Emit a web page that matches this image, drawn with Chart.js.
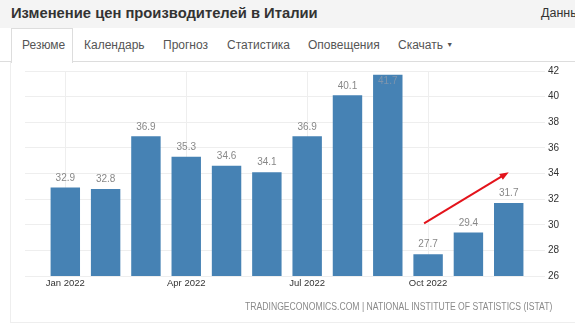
<!DOCTYPE html>
<html><head><meta charset="utf-8">
<script src="https://cdn.jsdelivr.net/npm/chart.js@4/dist/chart.umd.min.js"></script>
<style>
html,body{margin:0;padding:0;width:575px;height:326px;overflow:hidden;background:#fff;font-family:"Liberation Sans",Arial,sans-serif;}
#hdr{position:absolute;left:0;top:0;width:575px;height:28px;background:#f4f4f4;}
#title{position:absolute;left:11px;top:4px;font-size:15px;font-weight:bold;color:#333;white-space:nowrap;transform-origin:left center;}
#data{position:absolute;left:541px;top:6px;font-size:12.5px;color:#333;white-space:nowrap;}
#tabline{position:absolute;left:0;top:61px;width:575px;height:1px;background:#ddd;}
#tabact{position:absolute;left:11px;top:28px;width:60px;height:34px;background:#fff;border:1px solid #ddd;border-bottom:none;}
.tab{position:absolute;top:38px;font-size:12px;color:#555;white-space:nowrap;}
#panel{position:absolute;left:10px;top:62px;width:600px;height:260px;border-left:1px solid #eee;border-bottom:1px solid #eee;}
#wrap{position:absolute;left:0;top:62px;width:575px;height:240px;}
#src{position:absolute;right:23px;top:301px;font-size:10px;color:#8a8a8a;white-space:nowrap;transform-origin:right center;}
</style></head>
<body>
<div id="hdr"><div id="title">Изменение цен производителей в Италии</div><div id="data">Данные</div></div>
<div id="panel"></div>
<div id="tabline"></div>
<div id="tabact"></div>
<div class="tab" style="left:22px">Резюме</div>
<div class="tab" style="left:84px">Календарь</div>
<div class="tab" style="left:163px">Прогноз</div>
<div class="tab" style="left:227px">Статистика</div>
<div class="tab" style="left:308px">Оповещения</div>
<div class="tab" style="left:398px">Скачать <span style="font-size:7px;vertical-align:2px">▼</span></div>
<div id="wrap"><canvas id="c"></canvas></div>
<div id="src">TRADINGECONOMICS.COM | NATIONAL INSTITUTE OF STATISTICS (ISTAT)</div>
<script>
const categories = ['Jan 2022','Feb 2022','Mar 2022','Apr 2022','May 2022','Jun 2022','Jul 2022','Aug 2022','Sep 2022','Oct 2022','Nov 2022','Dec 2022'];
const values = [32.9, 32.8, 36.9, 35.3, 34.6, 34.1, 36.9, 40.1, 41.7, 27.7, 29.4, 31.7];
const tickLabels = ['Jan 2022','Apr 2022','Jul 2022','Oct 2022'];
const yTicks = [26, 28, 30, 32, 34, 36, 38, 40, 42];
const arrowFrom = {x: 8.9, y: 30.1};
const arrowTo = {x: 11.0, y: 34.1};

const src = document.getElementById('src');
src.style.transform = 'scaleX(' + (307 / src.offsetWidth) + ')';
const ttl = document.getElementById('title');
ttl.style.transform = 'scaleX(' + (307 / ttl.offsetWidth) + ')';

const labelPlugin = {
  id: 'labels',
  afterDatasetsDraw(chart) {
    const ctx = chart.ctx, ca = chart.chartArea;
    const meta = chart.getDatasetMeta(0);
    ctx.save();
    ctx.font = '10px "Liberation Sans", Arial, sans-serif';
    ctx.textAlign = 'center';
    ctx.textBaseline = 'middle';
    meta.data.forEach((bar, i) => {
      const txt = values[i].toFixed(1);
      let y = bar.y - 9.5;
      if (y - 5 < ca.top) { y = bar.y + 6.5; ctx.fillStyle = '#7f95ad'; }
      else ctx.fillStyle = '#888';
      ctx.fillText(txt, bar.x, y);
    });
    // arrow
    const xs = chart.scales.x, ys = chart.scales.y;
    const x1 = xs.getPixelForValue(arrowFrom.x), y1 = ys.getPixelForValue(arrowFrom.y);
    const x2 = xs.getPixelForValue(arrowTo.x), y2 = ys.getPixelForValue(arrowTo.y);
    const ang = Math.atan2(y2 - y1, x2 - x1);
    const hl = 9, hw = 3.5;
    ctx.strokeStyle = '#e3131b';
    ctx.fillStyle = '#e3131b';
    ctx.lineWidth = 2;
    ctx.beginPath();
    ctx.moveTo(x1, y1);
    ctx.lineTo(x2 - Math.cos(ang) * hl * 0.8, y2 - Math.sin(ang) * hl * 0.8);
    ctx.stroke();
    ctx.beginPath();
    ctx.moveTo(x2, y2);
    ctx.lineTo(x2 - Math.cos(ang) * hl - Math.sin(ang) * hw, y2 - Math.sin(ang) * hl + Math.cos(ang) * hw);
    ctx.lineTo(x2 - Math.cos(ang) * hl + Math.sin(ang) * hw, y2 - Math.sin(ang) * hl - Math.cos(ang) * hw);
    ctx.closePath();
    ctx.fill();
    ctx.restore();
  }
};

new Chart(document.getElementById('c'), {
  type: 'bar',
  data: {
    datasets: [{
      data: values.map((v, i) => ({x: i, y: v})),
      backgroundColor: '#4682b4',
      borderWidth: 0,
      barPercentage: 0.73,
      categoryPercentage: 1
    }]
  },
  options: {
    responsive: true,
    maintainAspectRatio: false,
    animation: false,
    layout: {padding: {top: 8, left: 25, right: 0, bottom: 6}},
    plugins: {legend: {display: false}, tooltip: {enabled: false}},
    scales: {
      x: {
        type: 'linear',
        offset: false,
        min: -1,
        max: 11.9,
        afterBuildTicks(scale) {
          scale.ticks = categories.map((c, i) => tickLabels.includes(c) ? {value: i} : null).filter(t => t);
        },
        afterFit(scale) { scale.height = 20; },
        ticks: {
          callback: v => categories[v],
          color: '#333',
          font: {size: 9.5, family: '"Liberation Sans", Arial, sans-serif'},
          padding: 2,
          maxRotation: 0,
          autoSkip: false
        },
        grid: {color: '#eeeeee', drawTicks: false, offset: false},
        border: {display: false}
      },
      y: {
        position: 'right',
        min: 26,
        max: 42,
        afterBuildTicks(scale) { scale.ticks = yTicks.map(v => ({value: v})); },
        afterFit(scale) { scale.width = 30; },
        ticks: {
          color: '#333',
          font: {size: 10, family: '"Liberation Sans", Arial, sans-serif'},
          padding: 3
        },
        grid: {color: '#eeeeee', drawTicks: false},
        border: {display: false}
      }
    }
  },
  plugins: [labelPlugin]
});
</script>
</body></html>
